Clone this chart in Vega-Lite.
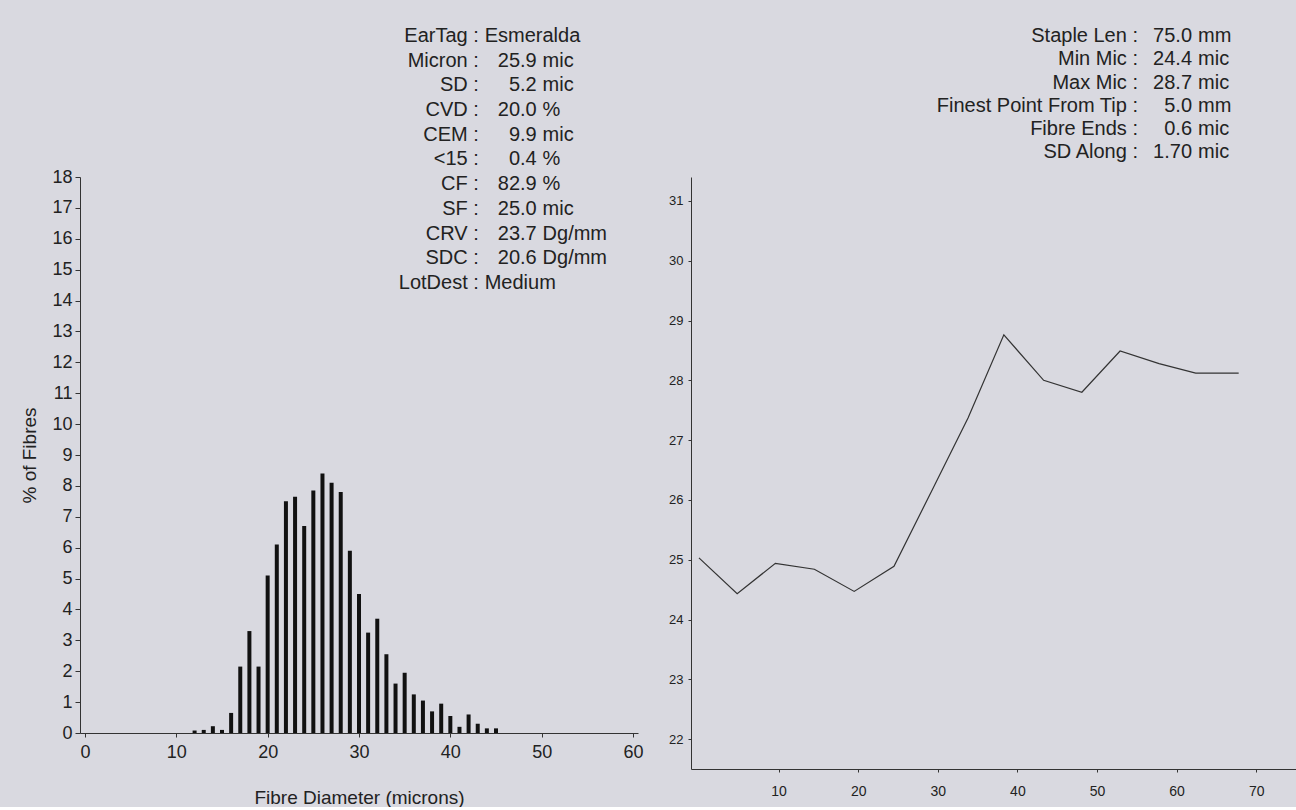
{
  "$schema": "https://vega.github.io/schema/vega-lite/v6.json",
  "description": "Fibre diameter distribution and micron profile along the staple",
  "background": "#d9d9e0",
  "padding": {"left": 20, "top": 25, "right": 2, "bottom": 0},
  "bounds": "flush",
  "spacing": 53,
  "config": {
    "view": {"stroke": null},
    "font": "Liberation Sans",
    "text": {"fontSize": 20, "color": "#222222", "baseline": "middle", "clip": false},
    "axis": {
      "grid": false,
      "domainColor": "#333333",
      "tickColor": "#333333",
      "labelColor": "#222222",
      "titleColor": "#222222",
      "labelFont": "Liberation Sans",
      "titleFont": "Liberation Sans",
      "titleFontWeight": "normal"
    }
  },
  "datasets": {
    "dist": [
      {"diameter": 12, "pct": 0.08},
      {"diameter": 13, "pct": 0.1},
      {"diameter": 14, "pct": 0.22},
      {"diameter": 15, "pct": 0.1},
      {"diameter": 16, "pct": 0.65},
      {"diameter": 17, "pct": 2.15},
      {"diameter": 18, "pct": 3.3},
      {"diameter": 19, "pct": 2.15},
      {"diameter": 20, "pct": 5.1},
      {"diameter": 21, "pct": 6.1},
      {"diameter": 22, "pct": 7.5},
      {"diameter": 23, "pct": 7.65},
      {"diameter": 24, "pct": 6.7},
      {"diameter": 25, "pct": 7.85},
      {"diameter": 26, "pct": 8.4},
      {"diameter": 27, "pct": 8.1},
      {"diameter": 28, "pct": 7.8},
      {"diameter": 29, "pct": 5.9},
      {"diameter": 30, "pct": 4.5},
      {"diameter": 31, "pct": 3.25},
      {"diameter": 32, "pct": 3.7},
      {"diameter": 33, "pct": 2.55},
      {"diameter": 34, "pct": 1.6},
      {"diameter": 35, "pct": 1.95},
      {"diameter": 36, "pct": 1.25},
      {"diameter": 37, "pct": 1.05},
      {"diameter": 38, "pct": 0.7},
      {"diameter": 39, "pct": 0.95},
      {"diameter": 40, "pct": 0.55},
      {"diameter": 41, "pct": 0.2},
      {"diameter": 42, "pct": 0.6},
      {"diameter": 43, "pct": 0.3},
      {"diameter": 44, "pct": 0.15},
      {"diameter": 45, "pct": 0.15}
    ],
    "along": [
      {"pos": 0, "mic": 25.03},
      {"pos": 4.8, "mic": 24.43},
      {"pos": 9.6, "mic": 24.94},
      {"pos": 14.5, "mic": 24.84},
      {"pos": 19.5, "mic": 24.47},
      {"pos": 24.5, "mic": 24.89},
      {"pos": 29.5, "mic": 26.22},
      {"pos": 33.8, "mic": 27.37},
      {"pos": 38.3, "mic": 28.76},
      {"pos": 43.3, "mic": 28.0},
      {"pos": 48.1, "mic": 27.8},
      {"pos": 52.9, "mic": 28.49},
      {"pos": 57.8, "mic": 28.28},
      {"pos": 62.4, "mic": 28.12},
      {"pos": 67.8, "mic": 28.12}
    ],
    "stats": [
      {"line": 0, "label": "EarTag :", "word": "Esmeralda", "num": "", "unit": ""},
      {"line": 1, "label": "Micron :", "word": "", "num": "25.9", "unit": "mic"},
      {"line": 2, "label": "SD :", "word": "", "num": "5.2", "unit": "mic"},
      {"line": 3, "label": "CVD :", "word": "", "num": "20.0", "unit": "%"},
      {"line": 4, "label": "CEM :", "word": "", "num": "9.9", "unit": "mic"},
      {"line": 5, "label": "<15 :", "word": "", "num": "0.4", "unit": "%"},
      {"line": 6, "label": "CF :", "word": "", "num": "82.9", "unit": "%"},
      {"line": 7, "label": "SF :", "word": "", "num": "25.0", "unit": "mic"},
      {"line": 8, "label": "CRV :", "word": "", "num": "23.7", "unit": "Dg/mm"},
      {"line": 9, "label": "SDC :", "word": "", "num": "20.6", "unit": "Dg/mm"},
      {"line": 10, "label": "LotDest :", "word": "Medium", "num": "", "unit": ""}
    ],
    "staple": [
      {"line": 0, "label": "Staple Len :", "num": "75.0", "unit": "mm"},
      {"line": 1, "label": "Min Mic :", "num": "24.4", "unit": "mic"},
      {"line": 2, "label": "Max Mic :", "num": "28.7", "unit": "mic"},
      {"line": 3, "label": "Finest Point From Tip :", "num": "5.0", "unit": "mm"},
      {"line": 4, "label": "Fibre Ends :", "num": "0.6", "unit": "mic"},
      {"line": 5, "label": "SD Along :", "num": "1.70", "unit": "mic"}
    ]
  },
  "hconcat": [
    {
      "width": 558,
      "height": 556,
      "layer": [
        {
          "data": {"name": "dist"},
          "mark": {"type": "bar", "size": 4, "color": "#111111"},
          "encoding": {
            "x": {
              "field": "diameter",
              "type": "quantitative",
              "scale": {"domain": [0, 60], "nice": false},
              "axis": {
                "values": [0, 10, 20, 30, 40, 50, 60],
                "title": "Fibre Diameter (microns)",
                "labelFontSize": 18,
                "titleFontSize": 19,
                "tickSize": 4,
                "labelPadding": 6,
                "titlePadding": 27,
                "labelFlush": false
              }
            },
            "y": {
              "field": "pct",
              "type": "quantitative",
              "scale": {"domain": [0, 18], "nice": false},
              "axis": {
                "values": [0, 1, 2, 3, 4, 5, 6, 7, 8, 9, 10, 11, 12, 13, 14, 15, 16, 17, 18],
                "title": "% of Fibres",
                "labelFontSize": 18,
                "titleFontSize": 19,
                "tickSize": 5,
                "labelPadding": 3,
                "titlePadding": 12,
                "labelFlush": false
              }
            }
          }
        },
        {
          "data": {"name": "stats"},
          "mark": {"type": "text", "align": "right"},
          "encoding": {
            "x": {"datum": 43.12, "type": "quantitative"},
            "y": {"field": "line", "type": "quantitative", "scale": {"domain": [5.709, 28.219], "reverse": true, "nice": false, "zero": false}, "axis": null},
            "text": {"field": "label"}
          }
        },
        {
          "data": {"name": "stats"},
          "mark": {"type": "text", "align": "left"},
          "encoding": {
            "x": {"datum": 43.76, "type": "quantitative"},
            "y": {"field": "line", "type": "quantitative", "scale": {"domain": [5.709, 28.219], "reverse": true, "nice": false, "zero": false}, "axis": null},
            "text": {"field": "word"}
          }
        },
        {
          "data": {"name": "stats"},
          "mark": {"type": "text", "align": "right"},
          "encoding": {
            "x": {"datum": 49.46, "type": "quantitative"},
            "y": {"field": "line", "type": "quantitative", "scale": {"domain": [5.709, 28.219], "reverse": true, "nice": false, "zero": false}, "axis": null},
            "text": {"field": "num"}
          }
        },
        {
          "data": {"name": "stats"},
          "mark": {"type": "text", "align": "left"},
          "encoding": {
            "x": {"datum": 50.1, "type": "quantitative"},
            "y": {"field": "line", "type": "quantitative", "scale": {"domain": [5.709, 28.219], "reverse": true, "nice": false, "zero": false}, "axis": null},
            "text": {"field": "unit"}
          }
        }
      ],
      "resolve": {"scale": {"y": "independent"}}
    },
    {
      "width": 605,
      "height": 592,
      "layer": [
        {
          "data": {"name": "along"},
          "mark": {"type": "line", "color": "#333333", "strokeWidth": 1.2},
          "encoding": {
            "x": {
              "field": "pos",
              "type": "quantitative",
              "scale": {"domain": [-1, 75], "nice": false, "zero": false},
              "axis": {
                "values": [10, 20, 30, 40, 50, 60, 70],
                "title": null,
                "labelFontSize": 14,
                "tickSize": 3,
                "labelPadding": 12
              }
            },
            "y": {
              "field": "mic",
              "type": "quantitative",
              "scale": {"domain": [21.5, 31.4], "nice": false, "zero": false},
              "axis": {
                "values": [22, 23, 24, 25, 26, 27, 28, 29, 30, 31],
                "title": null,
                "labelFontSize": 13,
                "tickSize": 3,
                "labelPadding": 5
              }
            }
          }
        },
        {
          "data": {"name": "staple"},
          "mark": {"type": "text", "align": "right"},
          "encoding": {
            "x": {"datum": 55.15, "type": "quantitative"},
            "y": {"field": "line", "type": "quantitative", "scale": {"domain": [6.052, 31.46], "reverse": true, "nice": false, "zero": false}, "axis": null},
            "text": {"field": "label"}
          }
        },
        {
          "data": {"name": "staple"},
          "mark": {"type": "text", "align": "right"},
          "encoding": {
            "x": {"datum": 61.94, "type": "quantitative"},
            "y": {"field": "line", "type": "quantitative", "scale": {"domain": [6.052, 31.46], "reverse": true, "nice": false, "zero": false}, "axis": null},
            "text": {"field": "num"}
          }
        },
        {
          "data": {"name": "staple"},
          "mark": {"type": "text", "align": "left"},
          "encoding": {
            "x": {"datum": 62.7, "type": "quantitative"},
            "y": {"field": "line", "type": "quantitative", "scale": {"domain": [6.052, 31.46], "reverse": true, "nice": false, "zero": false}, "axis": null},
            "text": {"field": "unit"}
          }
        }
      ],
      "resolve": {"scale": {"y": "independent"}}
    }
  ]
}
